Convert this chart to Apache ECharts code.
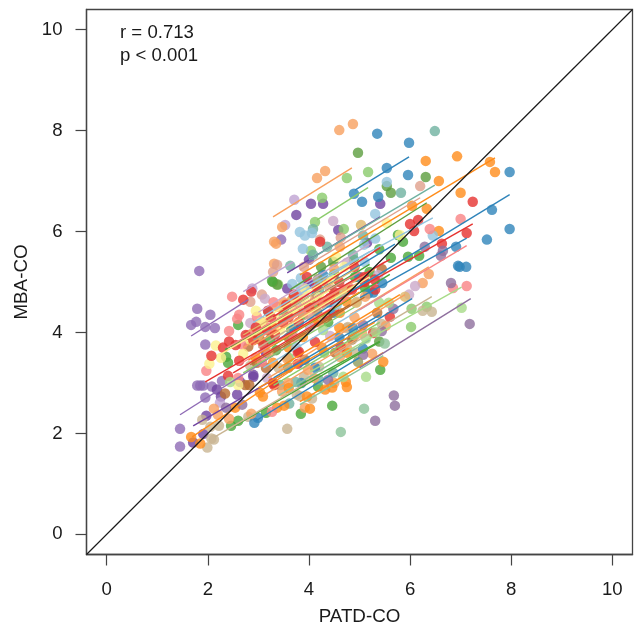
<!DOCTYPE html>
<html><head><meta charset="utf-8">
<style>html,body{margin:0;padding:0;background:#fff}#c{width:635px;height:629px}</style>
<script src="https://cdn.jsdelivr.net/npm/echarts@6/dist/echarts.min.js"></script>
</head><body><div id="c"></div>
<script>
const tickValues=[0,2,4,6,8,10];
const diagonal=[[-0.4,-0.4],[10.4,10.4]];
const annotationLines=['r = 0.713','p < 0.001'];
const xName='PATD-CO', yName='MBA-CO';

const midPurplePts=[[1.79,4.47],[2.05,4.35],[1.67,4.15],[1.77,4.21],[1.95,4.11],[2.14,4.09],[1.95,3.76],[1.83,5.22],[3.45,5.84],[1.79,2.95],[1.85,2.95],[1.91,2.95],[2.08,2.93],[1.95,2.71],[1.45,2.09],[1.45,1.74],[2.28,3.04]];
const midPurpleLines=[[1.67,3.93,2.8,4.65],[1.45,2.37,3.63,3.76]];
const darkPurplePts=[[3.75,6.33],[4.04,6.55],[4.28,6.55],[4.58,6.03],[5.41,6.55],[3.57,4.87],[3.98,4.96],[5.15,5.78],[4.0,5.44],[3.15,3.6],[2.18,2.87],[2.26,2.73],[2.58,2.77],[2.64,3.02],[2.9,3.12],[1.97,2.35],[1.91,1.99],[1.71,1.82],[4.0,4.98],[2.9,3.16]];
const darkPurpleLines=[[3.57,5.18,5.41,6.29],[1.71,2.15,3.63,3.26]];
const lightOrangePts=[[4.87,8.13],[4.6,8.01],[4.16,7.06],[4.32,7.2],[3.47,6.09],[3.31,5.8],[3.35,5.76],[3.31,5.36],[4.61,5.7],[4.5,5.26],[6.37,5.16],[6.25,4.98],[3.37,4.51],[3.67,4.65],[4.12,4.65],[3.72,4.45],[2.12,2.49],[2.2,2.37],[2.42,2.29],[2.86,2.39],[3.92,2.51],[3.59,3.0],[3.57,3.48],[4.75,3.7],[5.25,3.58],[5.52,4.13],[5.05,3.99],[5.11,4.71],[3.78,4.71],[4.61,3.52],[3.47,2.83],[3.98,3.26],[3.1,4.2],[3.5,4.6],[4.2,4.2],[4.9,4.3],[3.2,3.6],[4.1,3.1],[4.5,3.0],[2.9,4.0]];
const lightOrangeLines=[[3.29,6.29,4.85,7.26],[4.81,4.35,6.37,5.3],[3.2,3.1,5.9,4.75],[2.9,3.75,5.0,5.0],[2.7,3.7,5.3,5.25],[3.1,2.75,5.0,3.9]];
const ltPurplePts=[[3.71,6.63],[3.53,6.13],[2.88,4.87],[2.24,2.61]];
const ltPurpleLines=[[2.7,4.81,3.69,5.4]];
const midGreenPts=[[4.26,6.67],[4.12,6.19],[4.75,7.06],[5.17,7.18],[4.69,6.05],[4.04,5.62],[6.33,4.51],[6.03,4.47],[6.02,4.11],[3.39,4.95],[3.67,4.65],[4.56,4.75],[4.3,3.6],[3.6,3.5]];
const midGreenLines=[[4.16,6.23,5.17,6.87],[2.7,3.2,4.9,4.5],[3.3,2.95,5.4,4.2]];
const bluePts=[[5.35,7.94],[5.98,7.76],[5.54,7.26],[5.96,7.12],[7.97,7.18],[4.89,6.75],[5.05,6.59],[5.37,6.69],[7.62,6.43],[7.97,6.05],[7.52,5.84],[6.91,5.7],[6.95,5.32],[7.11,5.3],[6.98,5.3],[5.45,4.98],[5.27,4.79],[5.17,4.77],[4.87,4.09],[4.87,3.91],[5.07,3.68],[4.28,5.14],[4.48,4.39],[2.92,2.21],[2.99,2.31],[4.15,4.75],[3.7,4.1],[4.12,3.3],[3.85,3.0],[4.6,3.9],[4.4,4.6],[5.0,5.1]];
const blueLines=[[4.91,6.82,5.98,7.48],[4.81,4.8,7.97,6.73],[5.01,4.69,7.12,5.87],[3.82,3.32,6.04,4.67],[2.95,2.25,5.0,3.5],[3.0,3.6,5.2,5.05],[3.3,3.1,5.4,4.35],[3.4,4.35,5.7,5.75]];
const tealPts=[[6.49,7.99],[5.82,6.77],[4.08,6.05],[3.63,5.32],[4.36,5.7],[4.08,5.54],[5.07,5.92],[4.87,5.54],[3.61,2.59],[4.2,3.06],[4.48,3.2],[3.74,3.02],[3.43,2.96],[3.2,4.4],[4.2,4.85]];
const tealLines=[[4.0,5.44,6.49,6.92],[2.9,3.85,4.9,5.05]];
const darkGreenPts=[[4.97,7.56],[5.54,6.9],[5.62,6.77],[6.31,7.08],[4.89,5.44],[4.24,5.3],[4.48,5.4],[3.37,4.95],[3.29,5.0],[5.39,3.82],[3.5,4.35],[4.1,4.55]];
const darkGreenLines=[[3.63,4.85,6.33,6.57]];
const orangePts=[[6.31,7.4],[6.93,7.49],[7.58,7.38],[7.68,7.18],[6.57,7.0],[7.0,6.77],[6.04,6.51],[6.33,6.45],[6.57,6.01],[3.29,3.4],[3.03,2.81],[3.09,2.73],[3.37,2.51],[3.51,2.55],[4.02,2.49],[3.96,2.73],[4.46,2.91],[4.32,2.87],[4.75,2.92],[4.73,3.02],[5.47,3.42],[1.67,1.93],[1.85,1.8],[2.54,2.51],[3.88,3.91],[4.26,3.7],[4.6,4.1],[4.61,4.39],[4.75,3.6],[4.75,4.61],[3.3,4.1],[4.1,4.2],[3.6,3.7],[4.35,5.0],[2.95,3.5],[3.6,2.9]];
const orangeLines=[[3.82,5.14,7.68,7.46],[1.69,1.93,3.82,3.36],[3.82,2.63,5.47,3.6],[3.0,2.9,5.3,4.2],[2.8,3.45,5.0,4.8],[3.4,3.3,5.8,4.75]];
const redPts=[[7.24,6.59],[7.12,5.97],[6.0,6.15],[6.16,6.23],[6.08,6.01],[6.63,5.76],[4.22,5.8],[3.96,5.1],[2.7,4.65],[2.86,4.81],[3.19,4.43],[2.3,3.7],[2.42,3.82],[2.07,3.54],[2.62,3.44],[2.4,3.14],[5.6,4.31],[5.27,3.99],[4.63,3.72],[4.12,3.81],[3.78,3.6],[3.31,2.96],[4.26,4.59],[4.42,4.69],[3.49,4.19],[3.17,4.05],[3.33,3.96],[4.6,5.0],[4.85,4.85],[5.1,5.0],[5.3,5.05],[4.9,5.3],[3.6,4.3],[4.0,4.5],[5.09,5.1],[5.31,4.85],[4.38,4.65],[3.8,3.62],[3.78,3.38],[3.29,3.0],[2.9,3.85],[3.8,4.2],[4.5,4.8],[3.1,3.75],[2.75,3.95],[3.25,4.3],[3.55,4.55],[2.95,4.1],[3.7,4.75],[4.15,4.9],[2.55,3.75]];
const redLines=[[4.42,4.55,7.24,6.15],[1.95,3.02,4.42,4.45],[3.29,4.31,5.41,5.68],[2.9,3.9,5.6,5.45],[2.5,3.2,4.6,4.45]];
const pinkPts=[[7.0,6.25],[6.39,6.05],[6.85,4.88],[7.12,4.92],[2.48,4.71],[2.62,4.35],[2.58,4.27],[2.97,4.31],[2.42,4.03],[1.97,3.24],[2.6,3.1],[2.68,3.76],[3.27,2.43],[3.7,3.9],[3.07,3.42],[3.3,4.6],[2.8,3.95],[4.0,4.35]];
const pinkLines=[[5.0,4.45,7.12,5.72],[2.38,3.7,5.01,5.2],[3.1,3.95,5.5,5.4],[2.6,3.35,4.8,4.7]];
const lightBluePts=[[5.31,6.35],[5.54,6.98],[6.45,5.92],[5.31,5.86],[5.09,5.74],[3.82,5.99],[3.92,5.92],[4.06,5.97],[3.88,5.66],[3.84,5.08],[3.67,4.96],[3.84,4.89],[5.1,5.4],[3.75,3.7],[4.55,4.55]];
const lightBlueLines=[[3.63,4.75,6.45,6.27],[2.9,4.2,5.2,5.6],[3.1,3.3,5.5,4.75]];
const tanPinkPts=[[6.2,6.9],[4.22,5.84],[4.63,5.88],[3.37,5.34],[3.29,5.2],[3.9,5.3],[2.84,4.61],[3.07,4.75],[4.4,4.9],[3.85,4.4],[3.0,4.05]];
const tanPinkLines=[[3.82,5.24,6.2,6.67]];
const greenPts=[[6.18,5.52],[5.96,5.5],[5.62,5.48],[5.39,5.65],[5.86,5.8],[5.76,5.93],[4.5,5.16],[3.27,5.02],[3.88,4.35],[3.23,3.86],[2.6,4.15],[2.36,3.52],[2.4,3.4],[2.46,2.15],[2.6,2.25],[3.15,2.41],[3.84,2.39],[4.46,2.55],[4.18,2.93],[5.41,3.26],[5.2,5.2],[4.91,5.1],[5.11,4.88],[4.38,4.2],[3.35,3.65],[3.65,4.05]];
const greenLines=[[2.34,3.66,4.81,5.08],[2.5,2.13,5.41,3.82],[2.9,3.95,5.2,5.35],[3.3,3.75,5.6,5.15]];
const plumPts=[[4.48,6.21],[4.75,5.38],[6.1,4.92],[5.98,4.75],[3.13,4.67],[2.84,4.19],[3.17,3.1],[4.42,3.93],[4.02,4.11],[5.37,5.14],[3.9,4.75]];
const plumLines=[[3.0,4.4,5.2,5.75]];
const yellowPts=[[5.54,6.17],[5.8,5.93],[4.54,5.5],[3.92,4.87],[2.95,4.43],[2.16,3.74],[2.26,3.5],[2.03,3.38],[2.7,3.58],[2.6,2.96],[3.43,4.25],[3.43,4.05],[4.7,5.3],[3.7,4.4],[2.84,3.85],[4.2,4.7],[3.05,4.2],[3.95,4.6],[4.45,5.05]];
const yellowLines=[[2.24,3.56,4.42,4.84],[3.0,4.2,5.2,5.55],[3.3,3.95,5.2,5.1]];
const tanPts=[[6.25,4.43],[6.43,4.41],[5.44,4.17],[4.77,4.11],[4.75,4.81],[4.75,4.09],[3.51,4.55],[3.82,4.63],[4.71,4.81],[3.67,3.99],[2.05,2.13],[2.22,2.15],[2.12,1.88],[2.07,1.9],[1.99,1.72],[1.89,2.27],[2.8,2.33],[3.57,2.09],[4.06,2.69],[3.76,2.77],[3.9,3.12],[2.84,3.34],[4.95,4.61],[3.82,2.74],[4.2,3.32],[4.9,3.6],[3.4,3.3]];
const tanLines=[[4.5,3.56,6.43,4.71],[2.14,1.93,4.22,3.16],[3.0,3.7,5.3,5.1]];
const goldPts=[[5.03,6.13],[5.9,4.71],[4.93,4.59],[4.3,4.3],[4.75,4.84],[3.51,4.4],[3.0,3.95]];
const goldLines=[[2.7,3.95,5.0,5.3]];
const mauvePts=[[6.29,5.7],[6.65,5.62],[6.61,5.52],[6.81,4.98],[7.18,4.17],[5.67,4.47],[5.07,4.15],[5.44,4.03],[5.07,3.56],[5.68,2.75],[5.7,2.55],[5.31,2.25],[4.38,3.06],[2.36,2.51],[2.68,2.57]];
const mauveLines=[[5.0,3.3,7.2,4.67]];
const brownPts=[[5.44,5.26],[5.35,4.39],[4.85,3.86],[2.82,2.96],[2.8,3.72],[2.97,3.4],[3.15,3.3],[2.34,2.79],[3.92,3.46],[4.16,4.41],[3.03,3.86],[4.36,4.29],[4.52,3.6],[2.74,2.96],[3.6,3.9]];
const brownLines=[[2.84,3.36,4.81,4.55],[3.3,3.6,5.1,4.7]];
const ltGreenPts=[[7.02,4.49],[5.39,4.59],[5.58,4.59],[5.32,4.01],[5.13,3.88],[5.13,3.12],[4.68,3.12],[2.44,3.02],[4.28,4.05],[4.9,3.95]];
const ltGreenLines=[[4.02,3.22,7.02,4.9]];
const tealGreenPts=[[5.5,3.78],[5.09,2.49],[4.63,2.03]];
const tealGreenLines=[[3.82,2.57,5.47,3.54],[3.4,2.75,5.2,3.85]];
const olivePts=[[4.97,3.42],[3.59,3.3],[4.18,5.06]];
const green2Lines=[[3.82,2.96,5.39,3.82]];

const groups=[
 ['#8f6bb5',midPurplePts,midPurpleLines],
 ['#6f42a0',darkPurplePts,darkPurpleLines],
 ['#bfa3d2',ltPurplePts,ltPurpleLines],
 ['#8acb6b',midGreenPts,midGreenLines],
 ['#5d9e3f',darkGreenPts,darkGreenLines],
 ['#4aa83a',greenPts,greenLines],
 ['#c9b592',tanPts,tanLines],
 ['#2f84ba',bluePts,blueLines],
 ['#6fb1a0',tealPts,tealLines],
 ['#b96b30',brownPts,brownLines],
 ['#f8a05f',lightOrangePts,lightOrangeLines],
 ['#ff8c1a',orangePts,orangeLines],
 ['#e0a08c',tanPinkPts,tanPinkLines],
 ['#93c4df',lightBluePts,lightBlueLines],
 ['#cba9c9',plumPts,plumLines],
 ['#e0b86c',goldPts,goldLines],
 ['#f98385',pinkPts,pinkLines],
 ['#fdf28e',yellowPts,yellowLines],
 ['#e6322f',redPts,redLines],
 ['#8f6f9e',mauvePts,mauveLines],
 ['#a8db88',ltGreenPts,ltGreenLines],
 ['#8cc39a',tealGreenPts,tealGreenLines],
 ['#8e9b5e',olivePts,[]],
 ['#4aa83a',[],green2Lines]
];

const series=[];
groups.forEach(([color,pts,lines])=>{
  series.push({type:'scatter',data:pts,symbol:'circle',symbolSize:10.5,itemStyle:{color},silent:true,animation:false});
  lines.forEach(l=>series.push({type:'line',data:[[l[0],l[1]],[l[2],l[3]]],showSymbol:false,symbol:'none',lineStyle:{color,width:1.4},silent:true,animation:false}));
});
series.push({type:'line',data:diagonal,showSymbol:false,symbol:'none',lineStyle:{color:'#1a1a1a',width:1.2},silent:true,animation:false});

const font='"Liberation Sans", Arial, sans-serif';
const axis=(name,gap,rot,margin)=>({
  type:'value',min:-0.4,max:10.4,name,nameLocation:'middle',nameGap:gap,nameRotate:rot,
  nameTextStyle:{fontFamily:font,fontSize:18.8,color:'#1a1a1a'},
  splitLine:{show:false},
  axisLine:{show:true,onZero:false,lineStyle:{color:'#444',width:1.3}},
  axisTick:{show:true,length:11,customValues:tickValues,lineStyle:{color:'#444',width:1.2}},
  axisLabel:{show:true,customValues:tickValues,margin,fontFamily:font,fontSize:18.6,color:'#1a1a1a',showMinLabel:true,showMaxLabel:true}
});
const chart=echarts.init(document.getElementById('c'),null,{renderer:'canvas'});
chart.setOption({
  animation:false,backgroundColor:'#fff',
  grid:{left:86.5,top:9.5,width:546,height:545,outerBoundsMode:'none',show:true,borderColor:'#444',borderWidth:1.3,backgroundColor:'transparent'},
  xAxis:axis(xName,53,0,26),
  yAxis:axis(yName,47,90,24),
  series,
  graphic:[
    {type:'text',left:120,top:23,silent:true,style:{text:annotationLines[0],font:'18.6px '+font,fill:'#1a1a1a'}},
    {type:'text',left:120,top:46,silent:true,style:{text:annotationLines[1],font:'18.6px '+font,fill:'#1a1a1a'}}
  ]
});
</script></body></html>
